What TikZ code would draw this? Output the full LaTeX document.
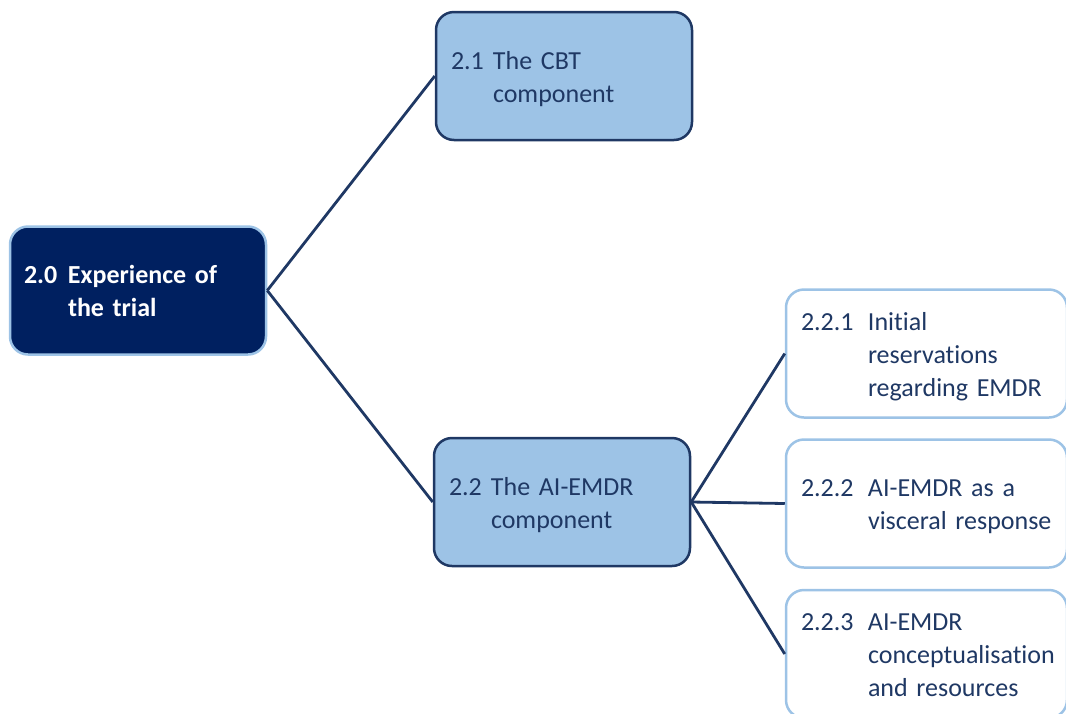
\documentclass[tikz,border=0pt]{standalone}
\usepackage{fontspec}
\setmainfont{Carlito}[Ligatures=NoCommon, WordSpace=0.7]
\usepackage{array}
\definecolor{navy}{HTML}{002060}
\definecolor{inkblue}{HTML}{1F3864}
\definecolor{paleblue}{HTML}{9DC3E6}
% numbered label: number column of given width, then the text lines
\newcommand{\numlabel}[3]{\raisebox{-3pt}[\height][\depth]{\begin{tabular}{@{}p{#1}@{}l@{}}#2 & #3\end{tabular}}}
\begin{document}
\begin{tikzpicture}[x=1pt,y=-1pt,
  box/.style={rectangle, rounded corners=18pt, line width=2.5pt,
    minimum height=128pt, inner xsep=15pt, inner ysep=0pt, align=left,
    font=\fontsize{26}{33}\selectfont},
  rootbox/.style={box, draw=paleblue, fill=navy, text=white,
    text width=228pt, inner xsep=14pt, font=\fontsize{26}{33}\selectfont\bfseries},
  midbox/.style={box, draw=inkblue, fill=paleblue, text=inkblue, text width=226pt},
  leafbox/.style={box, draw=paleblue, fill=white, text=inkblue, text width=251pt},
  link/.style={draw=inkblue, line width=2.8pt}
]
\useasboundingbox (0,0) rectangle (1066,713);

\node[rootbox] (root) at (138,290.5)
  {\numlabel{44pt}{2.0}{Experience of\\ & the trial}};
\node[midbox] (cbt) at (564,76)
  {\numlabel{42pt}{2.1}{The CBT\\ & component}};
\node[midbox] (emdr) at (562,502)
  {\numlabel{42pt}{2.2}{The AI-EMDR\\ & component}};
\node[leafbox] (res) at (926.5,353.5)
  {\numlabel{67pt}{2.2.1}{Initial\\ & reservations\\ & regarding EMDR}};
\node[leafbox] (visc) at (926.5,503.5)
  {\numlabel{67pt}{2.2.2}{AI-EMDR as a\\ & visceral response}};
\node[leafbox] (conc) at (926.5,654)
  {\numlabel{67pt}{2.2.3}{AI-EMDR\\ & conceptualisation\\ & and resources}};

\draw[link] (root.east) -- (cbt.west);
\draw[link] (root.east) -- (emdr.west);
\draw[link] (emdr.east) -- (res.west);
\draw[link] (emdr.east) -- (visc.west);
\draw[link] (emdr.east) -- (conc.west);
\end{tikzpicture}
\end{document}
